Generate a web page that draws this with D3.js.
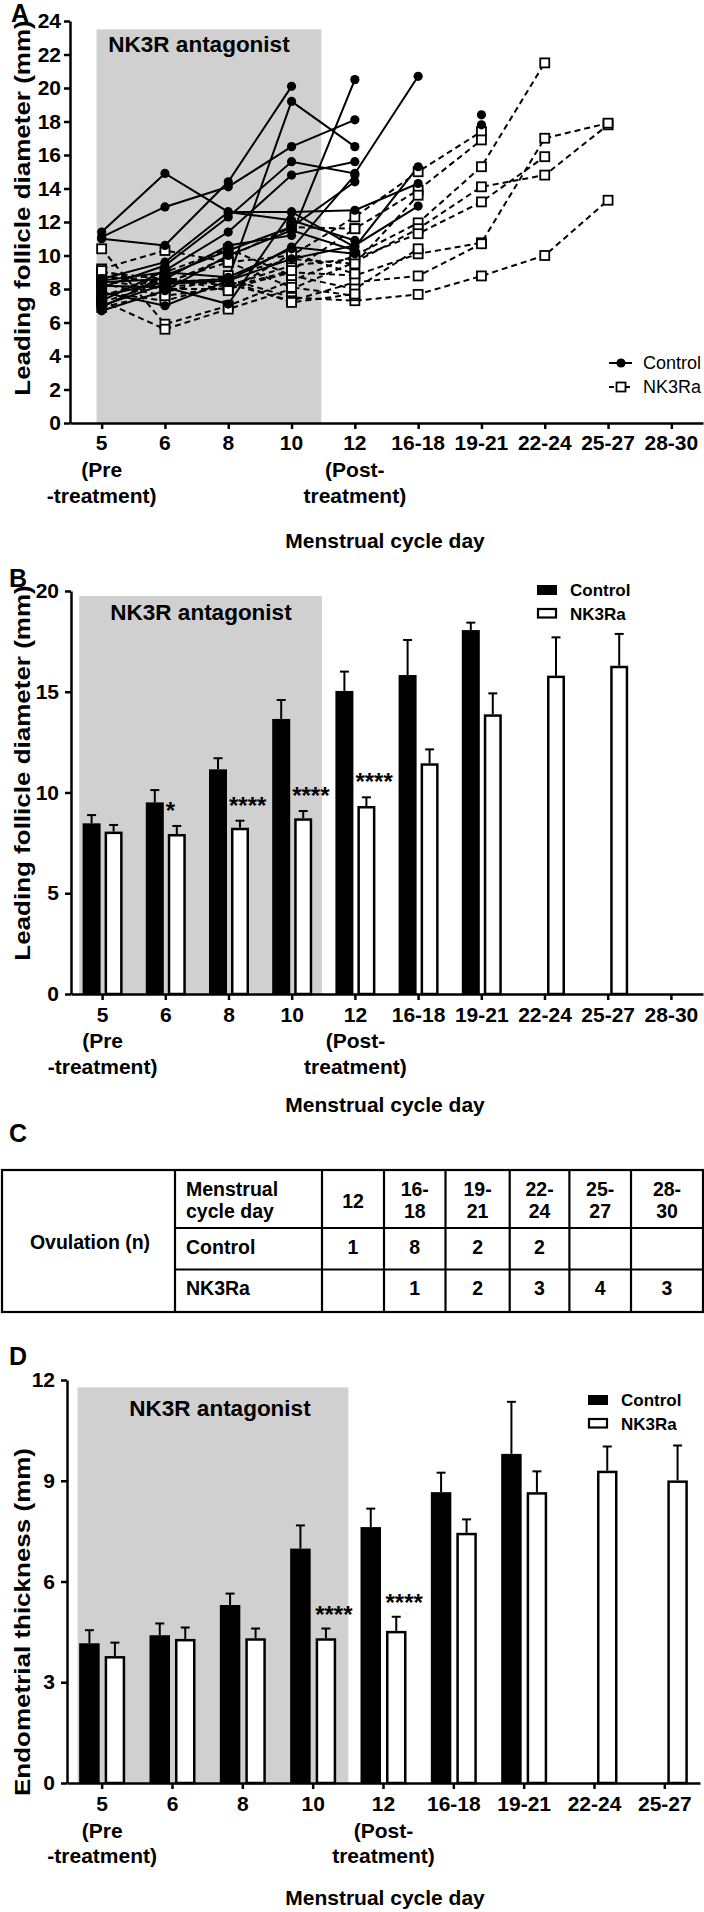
<!DOCTYPE html>
<html><head><meta charset="utf-8">
<script src="https://cdn.jsdelivr.net/npm/d3@7"></script>
<style>
body{margin:0;background:#fff;}
svg{display:block;}
</style></head><body>
<svg id="fig" width="704" height="1912"></svg>
<script>
// ---------------- DATA ----------------
const days  = ["5","6","8","10","12","16-18","19-21","22-24","25-27","28-30"];
const daysD = ["5","6","8","10","12","16-18","19-21","22-24","25-27"];
const subLabels = {"5":["(Pre","-treatment)"], "12":["(Post-","treatment)"]};
const yTicksA = [0,2,4,6,8,10,12,14,16,18,20,22,24];
const yTicksB = [0,5,10,15,20];
const yTicksD = [0,3,6,9,12];

// Panel A: individual subjects (value per cycle-day category, in order of `days`)
const controlSubjects = [
  [11.4, 14.9, 12.6, 12.6, 10.5, 15.3],
  [11.1, 12.9, 14.1, 16.5, 18.1],
  [11.0, 10.6, 14.4, 20.1],
  [7.6, 8.4, 8.6, 19.2, 16.5],
  [8.1, 9.4, 12.3, 15.6, 14.9, 20.7],
  [7.3, 9.1, 11.4, 14.8, 15.6],
  [8.4, 8.6, 10.6, 11.2, 20.5],
  [6.9, 8.8, 10.3, 11.7, 14.4],
  [8.6, 9.6, 12.6, 12.1, 10.9, null, 18.4],
  [7.8, 7.0, 8.5, 10.5, 10.1, null, 17.8],
  [8.2, 8.1, 7.1, 12.6, 12.7, 14.3],
  [7.0, 8.3, 8.5, 9.8, 10.6, 12.95],
  [8.5, 9.0, 8.7, 10.4, 14.8],
  [6.7, 7.9, 10.0, 11.5, 10.3]
];
const nk3raSubjects = [
  [9.2, 10.3, 9.6, 10.0, 12.3, 15.0, 17.4],
  [8.8, 8.3, 9.9, 11.7, 11.6, 13.9, 16.9],
  [10.4, 5.9, 7.0, 8.5, 10.0, 11.95, 15.3, 21.5],
  [7.3, 5.6, 6.8, 8.0, 9.6, 11.6, 14.1, 14.8, 17.8],
  [9.0, 8.6, 8.2, 9.4, 9.8, 11.3, 13.2, 15.9],
  [8.5, 8.0, 8.0, 9.0, 8.8, 10.1, 10.76, 17.0, 17.9],
  [7.2, 8.4, 8.6, 7.5, 7.3, 7.68, 8.78, 10.0, 13.3],
  [7.8, 7.3, 8.3, 7.3, 8.4, 8.78, 10.7],
  [8.2, 9.0, 10.4, 8.8, 8.0, 10.4],
  [6.9, 7.8, 8.8, 9.8, 9.5, 13.6],
  [8.7, 8.4, 9.6, 8.1, 7.6],
  [8.3, 7.6, 8.1, 9.1, 11.6],
  [7.6, 8.7, 7.9, 10.1, 8.9],
  [9.1, 8.1, 8.5, 7.2, 7.7]
];

// Panel B: leading follicle diameter, mean and SEM
const bControlMean = [8.47, 9.51, 11.15, 13.65, 15.04, 15.83, 18.06, null, null, null];
const bControlSem  = [0.41, 0.61, 0.55, 0.94, 0.96, 1.74, 0.37, null, null, null];
const bNK3RaMean   = [8.06, 7.94, 8.25, 8.72, 9.33, 11.45, 13.88, 15.80, 16.29, null];
const bNK3RaSem    = [0.33, 0.40, 0.35, 0.36, 0.43, 0.69, 1.04, 1.90, 1.58, null];
const bSig         = ["", "*", "****", "****", "****", "", "", "", "", ""];

// Panel C: ovulation table
const tableDays = [["12"],["16-","18"],["19-","21"],["22-","24"],["25-","27"],["28-","30"]];
const ovControl = [1, 8, 2, 2, null, null];
const ovNK3Ra   = [null, 1, 2, 3, 4, 3];

// Panel D: endometrial thickness, mean and SEM
const dControlMean = [4.16, 4.40, 5.30, 6.98, 7.62, 8.66, 9.80, null, null];
const dControlSem  = [0.39, 0.35, 0.34, 0.69, 0.55, 0.58, 1.55, null, null];
const dNK3RaMean   = [3.78, 4.29, 4.31, 4.31, 4.53, 7.45, 8.66, 9.30, 9.01];
const dNK3RaSem    = [0.40, 0.34, 0.29, 0.29, 0.42, 0.40, 0.62, 0.72, 1.04];
const dSig         = ["", "", "", "****", "****", "", "", "", ""];

// ---------------- DRAWING ----------------
const FONT = '"Liberation Sans", Arial, Helvetica, sans-serif';
const SHADE = "#d0d0d0";
const svg = d3.select("#fig").attr("font-family", FONT);

function txt(g, x, y, s, o = {}) {
  return g.append("text").attr("x", x).attr("y", y).text(s)
    .attr("font-size", o.size || 21).attr("font-weight", o.weight || "bold")
    .attr("text-anchor", o.anchor || "middle").attr("fill", "#000")
    .attr("font-family", FONT);
}
function styleAxis(g) {
  g.select(".domain").attr("stroke", "#000").attr("stroke-width", 2.5);
  g.selectAll(".tick line").attr("stroke", "#000").attr("stroke-width", 2.5);
  g.selectAll(".tick text").attr("font-size", 21).attr("font-weight", "bold")
    .attr("fill", "#000").attr("font-family", FONT);
}
function xAxisLabels(g, cx, cats, axisY, offs, titleOff) {
  cats.forEach(c => {
    txt(g, cx(c), axisY + offs[0], c);
    if (subLabels[c]) subLabels[c].forEach((s, k) => txt(g, cx(c), axisY + offs[k + 1], s));
  });
  txt(g, 385, axisY + titleOff, "Menstrual cycle day");
}
function yTitle(g, x, yc, s) {
  g.append("text").attr("transform", `translate(${x},${yc}) rotate(-90) scale(1,0.86)`)
    .attr("text-anchor", "middle").attr("font-size", 26).attr("font-weight", "bold")
    .attr("font-family", FONT).text(s);
}

// ===== Panel A =====
(function () {
  const g = svg.append("g");
  const X0 = 70, X1 = 703, Y0 = 423, Y1 = 21;
  const x = d3.scalePoint().domain(days).range([X0, X1]).padding(0.5);
  const y = d3.scaleLinear().domain([0, 24]).range([Y0, Y1]);
  const step = x.step();
  g.append("rect").attr("x", x("5") - 0.08 * step).attr("y", y(23.5))
    .attr("width", x("10") + 0.47 * step - (x("5") - 0.08 * step))
    .attr("height", y(0) - y(23.5)).attr("fill", SHADE);
  txt(g, 199, 52, "NK3R antagonist", { size: 22.5 });

  const line = d3.line().defined(d => d != null).x((d, i) => x(days[i])).y(d => y(d));
  g.append("g").selectAll("path").data(nk3raSubjects).join("path")
    .attr("d", line).attr("fill", "none").attr("stroke", "#000")
    .attr("stroke-width", 2).attr("stroke-dasharray", "6,4");
  g.append("g").selectAll("path").data(controlSubjects).join("path")
    .attr("d", line).attr("fill", "none").attr("stroke", "#000").attr("stroke-width", 2);

  const pts = (arr) => arr.flatMap(s => s.map((v, i) => v == null ? null : { i, v }).filter(d => d));
  g.append("g").selectAll("rect").data(pts(nk3raSubjects)).join("rect")
    .attr("x", d => x(days[d.i]) - 4.5).attr("y", d => y(d.v) - 4.5)
    .attr("width", 9).attr("height", 9).attr("fill", "#fff")
    .attr("stroke", "#000").attr("stroke-width", 1.8);
  g.append("g").selectAll("circle").data(pts(controlSubjects)).join("circle")
    .attr("cx", d => x(days[d.i])).attr("cy", d => y(d.v)).attr("r", 4.6).attr("fill", "#000");

  const ya = g.append("g").attr("transform", `translate(${X0},0)`)
    .call(d3.axisLeft(y).tickValues(yTicksA).tickSize(6).tickPadding(3).tickSizeOuter(0));
  styleAxis(ya);
  const xa = g.append("g").attr("transform", `translate(0,${Y0})`)
    .call(d3.axisBottom(x).tickSize(6).tickSizeOuter(0).tickFormat(""));
  styleAxis(xa);
  xAxisLabels(g, c => x(c), days, Y0, [27, 54, 80], 125);
  yTitle(g, 30, 208, "Leading follicle diameter (mm)");

  const lg = g.append("g");
  lg.append("line").attr("x1", 609).attr("x2", 632).attr("y1", 363).attr("y2", 363).attr("stroke", "#000").attr("stroke-width", 2);
  lg.append("circle").attr("cx", 621).attr("cy", 363).attr("r", 4.6).attr("fill", "#000");
  lg.append("line").attr("x1", 609).attr("x2", 633).attr("y1", 387).attr("y2", 387).attr("stroke", "#000").attr("stroke-width", 2).attr("stroke-dasharray", "5,3");
  lg.append("rect").attr("x", 616.5).attr("y", 382.5).attr("width", 9).attr("height", 9).attr("fill", "#fff").attr("stroke", "#000").attr("stroke-width", 1.8);
  txt(lg, 643, 369, "Control", { size: 18, weight: "normal", anchor: "start" });
  txt(lg, 643, 393, "NK3Ra", { size: 18, weight: "normal", anchor: "start" });
  txt(g, 11, 22, "A", { size: 25, anchor: "start" });
})();

// ===== Bar panels (B, D) =====
function barPanel(o) {
  const g = svg.append("g");
  const x = d3.scaleBand().domain(o.cats).range([o.X0, o.X1]);
  const y = d3.scaleLinear().domain([0, o.yMax]).range([o.Y0, o.Y1]);
  const step = x.step();
  const cx = c => x(c) + step / 2;
  const x5 = cx(o.cats[0]);
  g.append("rect").attr("x", x5 + o.shade[0] * step).attr("y", y(o.shade[2]))
    .attr("width", (o.shade[1] - o.shade[0]) * step).attr("height", y(0) - y(o.shade[2]))
    .attr("fill", SHADE);
  txt(g, o.antag[0], o.antag[1], "NK3R antagonist", { size: 22.5 });

  const bw = o.bw, gap = o.gap;
  const series = [
    { mean: o.cMean, sem: o.cSem, dx: -gap / 2 - bw, fill: "#000" },
    { mean: o.nMean, sem: o.nSem, dx: gap / 2, fill: "#fff" }
  ];
  series.forEach(s => {
    const data = o.cats.map((c, i) => ({ c, m: s.mean[i], e: s.sem[i] })).filter(d => d.m != null);
    const gg = g.append("g");
    gg.selectAll("line.eb").data(data).join("line")
      .attr("x1", d => cx(d.c) + s.dx + bw / 2).attr("x2", d => cx(d.c) + s.dx + bw / 2)
      .attr("y1", d => y(d.m)).attr("y2", d => y(d.m + d.e)).attr("stroke", "#000").attr("stroke-width", 2);
    gg.selectAll("line.cap").data(data).join("line")
      .attr("x1", d => cx(d.c) + s.dx + bw / 2 - 4.5).attr("x2", d => cx(d.c) + s.dx + bw / 2 + 4.5)
      .attr("y1", d => y(d.m + d.e)).attr("y2", d => y(d.m + d.e)).attr("stroke", "#000").attr("stroke-width", 2);
    gg.selectAll("rect").data(data).join("rect")
      .attr("x", d => cx(d.c) + s.dx + (s.fill === "#fff" ? 1.25 : 0))
      .attr("width", s.fill === "#fff" ? bw - 2.5 : bw)
      .attr("y", d => y(d.m) + (s.fill === "#fff" ? 1.25 : 0))
      .attr("height", d => y(0) - y(d.m) - (s.fill === "#fff" ? 1.25 : 0))
      .attr("fill", s.fill).attr("stroke", s.fill === "#fff" ? "#000" : "none").attr("stroke-width", 2.5);
  });
  o.cats.forEach((c, i) => {
    if (!o.sig[i]) return;
    const top = y(o.nMean[i] + o.nSem[i]);
    txt(g, cx(c) + o.sigDx, top - o.sigDy, o.sig[i], { size: 24, anchor: "start" });
  });

  const ya = g.append("g").attr("transform", `translate(${o.X0},0)`)
    .call(d3.axisLeft(y).tickValues(o.yTicks).tickSize(6).tickPadding(6).tickSizeOuter(0));
  styleAxis(ya);
  const xa = g.append("g").attr("transform", `translate(0,${o.Y0})`)
    .call(d3.axisBottom(x).tickSize(6).tickSizeOuter(0).tickFormat(""));
  styleAxis(xa);
  xAxisLabels(g, cx, o.cats, o.Y0, o.xOffs, o.titleOff);
  yTitle(g, 30, o.yTitleC, o.ylabel);

  const [lx, ly] = o.legend;
  g.append("rect").attr("x", lx).attr("y", ly).attr("width", 20).attr("height", 10).attr("fill", "#000");
  g.append("rect").attr("x", lx + 1).attr("y", ly + 24).attr("width", 18).attr("height", 8.5)
    .attr("fill", "#fff").attr("stroke", "#000").attr("stroke-width", 2.2);
  txt(g, lx + 33, ly + 11, "Control", { size: 17, anchor: "start" });
  txt(g, lx + 33, ly + 35, "NK3Ra", { size: 17, anchor: "start" });
  txt(g, 9, o.letterY, o.letter, { size: 25, anchor: "start" });
}

barPanel({
  cats: days, X0: 71, X1: 703, Y0: 994, Y1: 591, yMax: 20, yTicks: yTicksB,
  cMean: bControlMean, cSem: bControlSem, nMean: bNK3RaMean, nSem: bNK3RaSem, sig: bSig,
  shade: [-0.37, 3.47, 19.75], antag: [201, 620], bw: 18, gap: 4, sigDx: 0, sigDy: 7,
  xOffs: [28, 54, 80], titleOff: 118, yTitleC: 773, ylabel: "Leading follicle diameter (mm)",
  legend: [537, 585], letter: "B", letterY: 587
});

barPanel({
  cats: daysD, X0: 67, X1: 700, Y0: 1783, Y1: 1380, yMax: 12, yTicks: yTicksD,
  cMean: dControlMean, cSem: dControlSem, nMean: dNK3RaMean, nSem: dNK3RaSem, sig: dSig,
  shade: [-0.35, 3.5, 11.78], antag: [220, 1416], bw: 20.5, gap: 5, sigDx: 2, sigDy: 6,
  xOffs: [28, 55, 80], titleOff: 122, yTitleC: 1622, ylabel: "Endometrial thickness (mm)",
  legend: [588, 1395], letter: "D", letterY: 1365
});

// ===== Panel C: table =====
(function () {
  const g = svg.append("g");
  txt(g, 9, 1142, "C", { size: 25, anchor: "start" });
  const L = 2, R = 703, T = 1170, B = 1312;
  const colEdges = [175, 322, 384, 445.5, 509.7, 569.4, 631, 703];
  const rowEdges = [1228, 1269.5];
  const st = sel => sel.attr("stroke", "#000").attr("stroke-width", 2.2);
  st(g.append("rect").attr("x", L).attr("y", T).attr("width", R - L).attr("height", B - T).attr("fill", "none"));
  colEdges.slice(0, -1).forEach(cx => st(g.append("line").attr("x1", cx).attr("x2", cx).attr("y1", T).attr("y2", B)));
  rowEdges.forEach(ry => st(g.append("line").attr("x1", colEdges[0]).attr("x2", R).attr("y1", ry).attr("y2", ry)));
  const fs = { size: 19.5 };
  txt(g, 90, 1249, "Ovulation (n)", fs);
  txt(g, 186, 1196, "Menstrual", { size: 19.5, anchor: "start" });
  txt(g, 186, 1218, "cycle day", { size: 19.5, anchor: "start" });
  txt(g, 186, 1254, "Control", { size: 19.5, anchor: "start" });
  txt(g, 186, 1295, "NK3Ra", { size: 19.5, anchor: "start" });
  tableDays.forEach((lines, i) => {
    const cx = (colEdges[i + 1] + colEdges[i + 2]) / 2;
    if (lines.length === 1) txt(g, cx, 1208, lines[0], fs);
    else { txt(g, cx, 1196, lines[0], fs); txt(g, cx, 1218, lines[1], fs); }
    if (ovControl[i] != null) txt(g, cx, 1254, ovControl[i], fs);
    if (ovNK3Ra[i] != null) txt(g, cx, 1295, ovNK3Ra[i], fs);
  });
})();
</script>
</body></html>
